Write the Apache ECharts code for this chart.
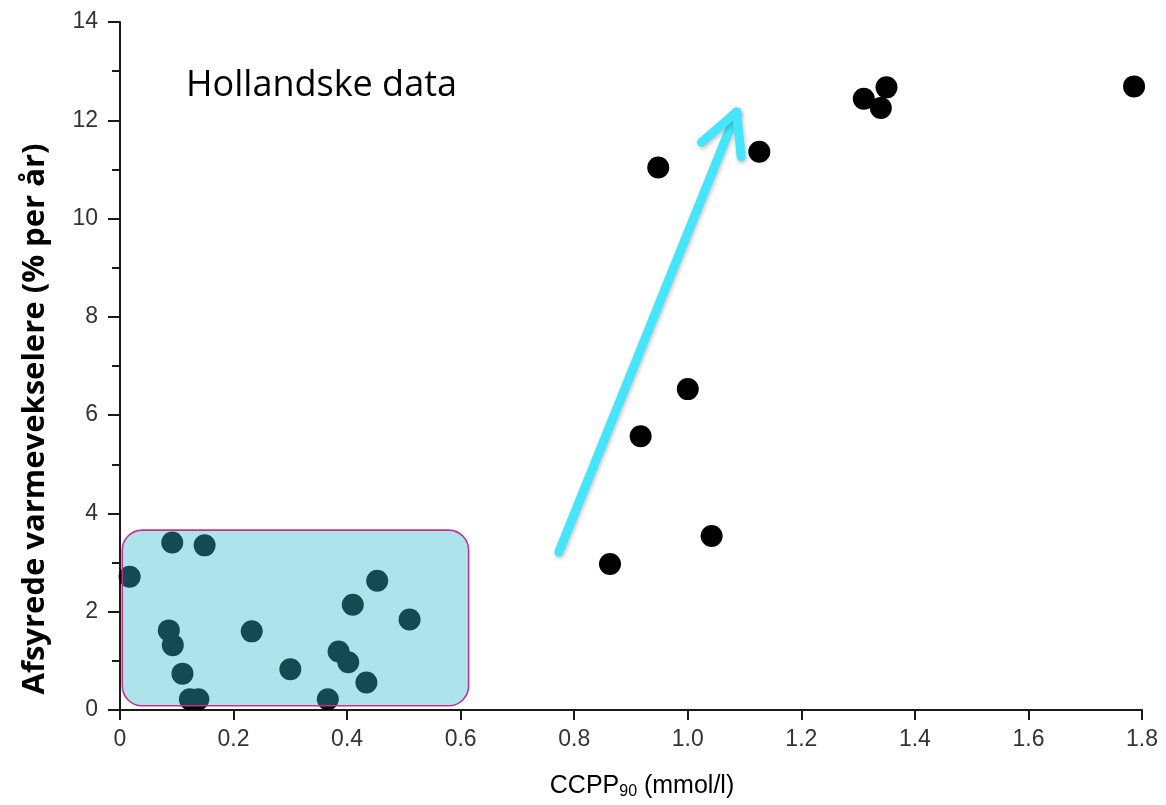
<!DOCTYPE html>
<html><head><meta charset="utf-8">
<script src="https://cdn.jsdelivr.net/npm/echarts@6/dist/echarts.min.js"></script>
<style>html,body{margin:0;padding:0;background:#fff}#c{width:1166px;height:805px}</style>
</head><body><div id="c"></div>
<script>
// Low CCPP group (inside highlighted box)
const lowX = [0.017, 0.092, 0.149, 0.086, 0.093, 0.110, 0.123, 0.138, 0.232, 0.300, 0.366, 0.385, 0.402, 0.410, 0.434, 0.453, 0.510];
const lowY = [2.71, 3.41, 3.35, 1.62, 1.32, 0.74, 0.22, 0.22, 1.60, 0.83, 0.22, 1.19, 0.97, 2.14, 0.56, 2.63, 1.84];
// High CCPP group
const highX = [0.863, 0.917, 1.000, 1.042, 0.948, 1.126, 1.310, 1.340, 1.350, 1.786];
const highY = [2.97, 5.57, 6.53, 3.54, 11.04, 11.36, 12.44, 12.25, 12.67, 12.69];

const xTickLabels = ['0', '0.2', '0.4', '0.6', '0.8', '1.0', '1.2', '1.4', '1.6', '1.8'];
const yTickLabels = ['0', '2', '4', '6', '8', '10', '12', '14'];

const annotationText = 'Hollandske data';
const yTitle = 'Afsyrede varmevekselere (% per år)';

// annotation geometry in data coordinates
const boxCorners = [[0.004, 3.66], [0.614, 0.085]];
const arrowTail = [0.773, 3.215];
const arrowTip = [1.086, 12.17];
const arrowWingA = [1.024, 11.55];
const arrowWingB = [1.094, 11.26];

const axisColor = '#1a1a1a';
const chart = echarts.init(document.getElementById('c'));
const pts = lowX.map((x, i) => [x, lowY[i]]).concat(highX.map((x, i) => [x, highY[i]]));

chart.setOption({
  animation: false,
  grid: { left: 120, right: 24, top: 22, bottom: 95, containLabel: false },
  xAxis: {
    type: 'value', min: 0, max: 1.8, interval: 0.2,
    axisLine: { show: true, lineStyle: { color: axisColor, width: 2 } },
    axisTick: { show: true, length: 10, lineStyle: { color: axisColor, width: 2 } },
    axisLabel: { margin: 18, fontSize: 23, color: '#333', fontFamily: 'Liberation Sans',
      formatter: v => xTickLabels[Math.round(v / 0.2)] },
    splitLine: { show: false }
  },
  yAxis: {
    type: 'value', min: 0, max: 14, interval: 2,
    axisLine: { show: true, lineStyle: { color: axisColor, width: 2 } },
    axisTick: { show: true, length: 12, lineStyle: { color: axisColor, width: 2 } },
    minorTick: { show: true, splitNumber: 2, length: 8, lineStyle: { color: axisColor, width: 2 } },
    axisLabel: { margin: 22, fontSize: 23, color: '#333', fontFamily: 'Liberation Sans',
      formatter: v => yTickLabels[Math.round(v / 2)] },
    splitLine: { show: false }
  },
  series: [{
    type: 'scatter', symbolSize: 22, z: 2,
    itemStyle: { color: '#000', opacity: 1 },
    data: pts
  }]
});

const P = c => chart.convertToPixel({ gridIndex: 0 }, c);
const b0 = P(boxCorners[0]), b1 = P(boxCorners[1]);
const t = P(arrowTail), tip = P(arrowTip), wa = P(arrowWingA), wb = P(arrowWingB);
const arrowStyle = { stroke: '#45e6fc', lineWidth: 9, lineCap: 'round', lineJoin: 'round', fill: null,
  shadowBlur: 4, shadowOffsetX: 1, shadowOffsetY: 2, shadowColor: 'rgba(0,0,0,0.25)' };

chart.setOption({
  graphic: [
    { type: 'rect', z: 100,
      shape: { x: b0[0], y: b0[1], width: b1[0] - b0[0], height: b1[1] - b0[1], r: 20 },
      style: { fill: 'rgba(50,187,205,0.4)', stroke: '#c2328a', lineWidth: 1.6 } },
    { type: 'polyline', z: 100, shape: { points: [t, tip] }, style: arrowStyle },
    { type: 'polyline', z: 100, shape: { points: [wa, tip, wb] }, style: arrowStyle },
    { type: 'text', z: 100, x: 186, y: 86,
      style: { text: annotationText, font: '36px "Open Sans"', fill: '#000',
        textAlign: 'left', verticalAlign: 'middle', textVerticalAlign: 'middle' } },
    { type: 'text', z: 100, x: 35, y: 419, rotation: Math.PI / 2,
      style: { text: yTitle, font: 'bold 31px "Open Sans"', fill: '#000',
        textAlign: 'center', verticalAlign: 'middle', textVerticalAlign: 'middle' } },
    { type: 'text', z: 100, x: 642, y: 786,
      style: { text: '{a|CCPP}{b|90}{a| (mmol/l)}', textAlign: 'center', verticalAlign: 'middle', textVerticalAlign: 'middle',
        rich: {
          a: { fontSize: 25, fontFamily: 'Liberation Sans', color: '#333', lineHeight: 28 },
          b: { fontSize: 16, fontFamily: 'Liberation Sans', color: '#333', lineHeight: 6, verticalAlign: 'bottom' }
        } } }
  ]
});
</script></body></html>
